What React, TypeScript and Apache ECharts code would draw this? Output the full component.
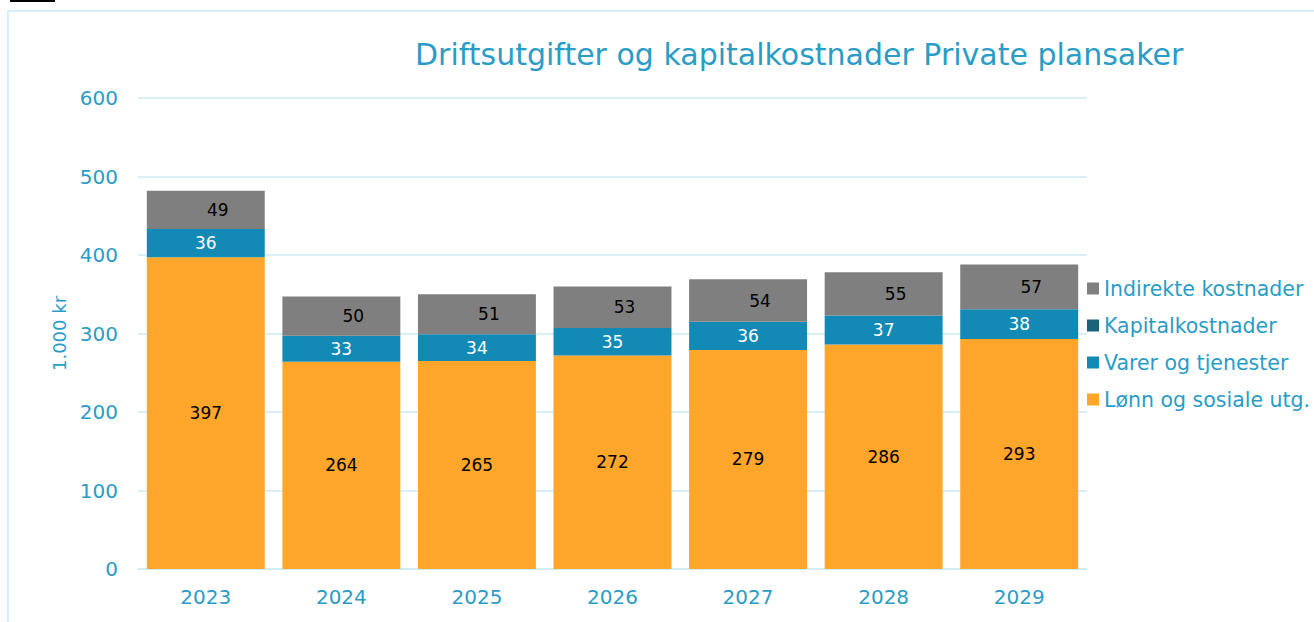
import React, { useEffect, useRef } from "react";
import * as echarts from "echarts";

const years = ["2023", "2024", "2025", "2026", "2027", "2028", "2029"];
const lonn = [397, 264, 265, 272, 279, 286, 293];
const varer = [36, 33, 34, 35, 36, 37, 38];
const kapital = [0, 0, 0, 0, 0, 0, 0];
const indirekte = [49, 50, 51, 53, 54, 55, 57];

const titleText = "Driftsutgifter og kapitalkostnader Private plansaker";
const cyan = "#2a9cc6";
const font = "DejaVu Sans, Verdana, sans-serif";

export default function App() {
  const ref = useRef<HTMLDivElement>(null);
  useEffect(() => {
    document.body.style.margin = "0";
    const chart = echarts.init(ref.current!, null, { renderer: "svg" });
    chart.setOption({
      animation: false,
      backgroundColor: "#ffffff",
      textStyle: { fontFamily: font },
      title: {
        text: titleText,
        left: 410,
        top: 34,
        textStyle: { fontSize: 30, fontWeight: "normal", color: cyan, fontFamily: font },
      },
      graphic: [
        { type: "rect", shape: { x: 8, y: 11, width: 1320, height: 620 }, style: { fill: "none", stroke: "#d6f0f7", lineWidth: 2 }, z: -1 },
        { type: "rect", shape: { x: 10, y: 0, width: 45, height: 2 }, style: { fill: "#000" } },
      ],
      legend: {
        orient: "vertical",
        left: 1082,
        top: 273,
        itemWidth: 12,
        itemHeight: 12,
        itemGap: 16,
        icon: "rect",
        data: ["Indirekte kostnader", "Kapitalkostnader", "Varer og tjenester", "Lønn og sosiale utg."],
        textStyle: { fontSize: 20.5, color: cyan, fontFamily: font, lineHeight: 19 },
      },
      grid: { left: 138, right: 227, top: 98, bottom: 53, containLabel: false },
      xAxis: {
        type: "category",
        data: years,
        axisLine: { lineStyle: { color: "#cdebf4", width: 1.5 } },
        axisTick: { show: false },
        axisLabel: { fontSize: 20, color: cyan, margin: 18, fontFamily: font },
      },
      yAxis: {
        type: "value",
        min: 0,
        max: 600,
        interval: 100,
        name: "1.000 kr",
        nameLocation: "middle",
        nameRotate: 90,
        nameGap: 66,
        nameTextStyle: { fontSize: 18, color: cyan, fontFamily: font },
        axisLine: { show: false },
        axisTick: { show: false },
        axisLabel: { fontSize: 20, color: cyan, margin: 20, fontFamily: font },
        splitLine: { lineStyle: { color: "#cdebf4", width: 1.5 } },
      },
      series: [
        {
          name: "Lønn og sosiale utg.",
          type: "bar",
          stack: "t",
          barCategoryGap: "13%",
          data: lonn,
          itemStyle: { color: "#ffa62b" },
          label: { show: true, position: "inside", color: "#000", fontSize: 17, fontFamily: font },
        },
        {
          name: "Varer og tjenester",
          type: "bar",
          stack: "t",
          data: varer,
          itemStyle: { color: "#138ab5" },
          label: { show: true, position: "inside", color: "#fff", fontSize: 17, fontFamily: font },
        },
        {
          name: "Kapitalkostnader",
          type: "bar",
          stack: "t",
          data: kapital,
          itemStyle: { color: "#1b6478" },
          label: { show: false },
        },
        {
          name: "Indirekte kostnader",
          type: "bar",
          stack: "t",
          data: indirekte,
          itemStyle: { color: "#7f7f7f" },
          label: { show: true, position: "inside", offset: [12, 0], color: "#000", fontSize: 17, fontFamily: font },
        },
      ],
    });
    return () => chart.dispose();
  }, []);
  return <div ref={ref} style={{ width: 1314, height: 622 }} />;
}
